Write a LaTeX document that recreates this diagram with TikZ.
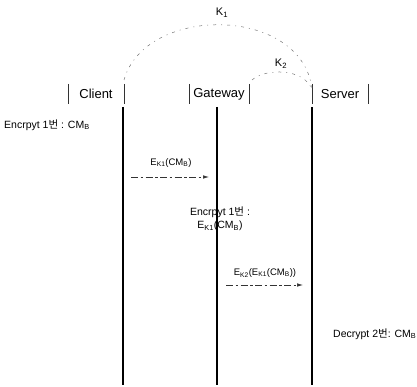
\documentclass[tikz,border=0pt]{standalone}
\usepackage{fontspec}
\setmainfont{Liberation Sans}
\newfontfamily\kr{Noto Sans CJK KR}
\usetikzlibrary{arrows.meta}
\tikzset{
  lbl/.style={inner sep=0pt, minimum width=56pt, minimum height=20pt, font=\fontsize{13}{14}\selectfont},
  note/.style={inner sep=0pt, font=\fontsize{9.5}{11}\selectfont, align=center},
  bignote/.style={note, font=\fontsize{10.5}{13}\selectfont},
  bracket/.style={draw=black!80, line width=0.5pt},
  lifeline/.style={draw=black, line width=1.6pt},
  keyarc/.style={draw=black!55, line width=0.5pt, dash pattern=on 3pt off 5pt on 1pt off 5pt},
  msg/.style={draw=black!80, line width=0.6pt, dash pattern=on 7pt off 2.5pt on 2.5pt off 2.5pt, -{Latex[length=6pt,width=3.5pt]}},
}
\newcommand{\cmb}{CM\textsubscript{B}}
\newcommand{\ek}[1]{E\textsubscript{K#1}}
\begin{document}
\begin{tikzpicture}[x=1pt,y=-1pt]
\useasboundingbox (0,0) rectangle (417,387);
% participants
\node[lbl, minimum width=56pt] (client) at (96,94) {Client};
\node[lbl, minimum width=60pt] (gateway) at (219,94) {Gateway};
\node[lbl, minimum width=56pt] (server) at (340,94) {Server};
\foreach \p in {client,gateway,server}{
  \draw[bracket] (\p.north west) -- (\p.south west) (\p.north east) -- (\p.south east);
}
% lifelines
\coordinate (ctop) at (123,107); \coordinate (cbot) at (123,385);
\coordinate (gtop) at (217,107); \coordinate (gbot) at (217,385);
\coordinate (stop) at (312,107); \coordinate (sbot) at (312,385);
\draw[lifeline] (ctop) -- (cbot);
\draw[lifeline] (gtop) -- (gbot);
\draw[lifeline] (stop) -- (sbot);
% key arcs
\coordinate (k1a) at (124,80); \coordinate (k1b) at (312,88);
\coordinate (k2a) at (252,80); \coordinate (k2b) at (312,90);
\draw[keyarc] (k1a) .. controls (145,5) and (300,5) .. (k1b);
\draw[keyarc] (k2a) .. controls (265,68) and (305,68) .. (k2b);
\node[note, font=\fontsize{11}{12}\selectfont] (k1) at (222,13) {K\textsubscript{1}};
\node[note, font=\fontsize{11}{12}\selectfont] (k2) at (281,64) {K\textsubscript{2}};
% notes
\node[bignote, anchor=west] (enc1) at (4,125) {Encrpyt 1{\kr 번} : \cmb};
\node[note] (m1lbl) at (171,163) {\ek{1}(\cmb)};
\coordinate (m1a) at (131,177); \coordinate (m1b) at (209,177);
\draw[msg] (m1a) -- (m1b);
\node[bignote] (enc2) at (220,219) {Encrpyt 1{\kr 번} :\\\ek{1}(\cmb)};
\node[note] (m2lbl) at (265,273) {\ek{2}(\ek{1}(\cmb))};
\coordinate (m2a) at (226,285); \coordinate (m2b) at (303,285);
\draw[msg] (m2a) -- (m2b);
\node[bignote, anchor=west] (dec) at (333,334) {Decrypt 2{\kr 번}: \cmb};
\end{tikzpicture}
\end{document}
